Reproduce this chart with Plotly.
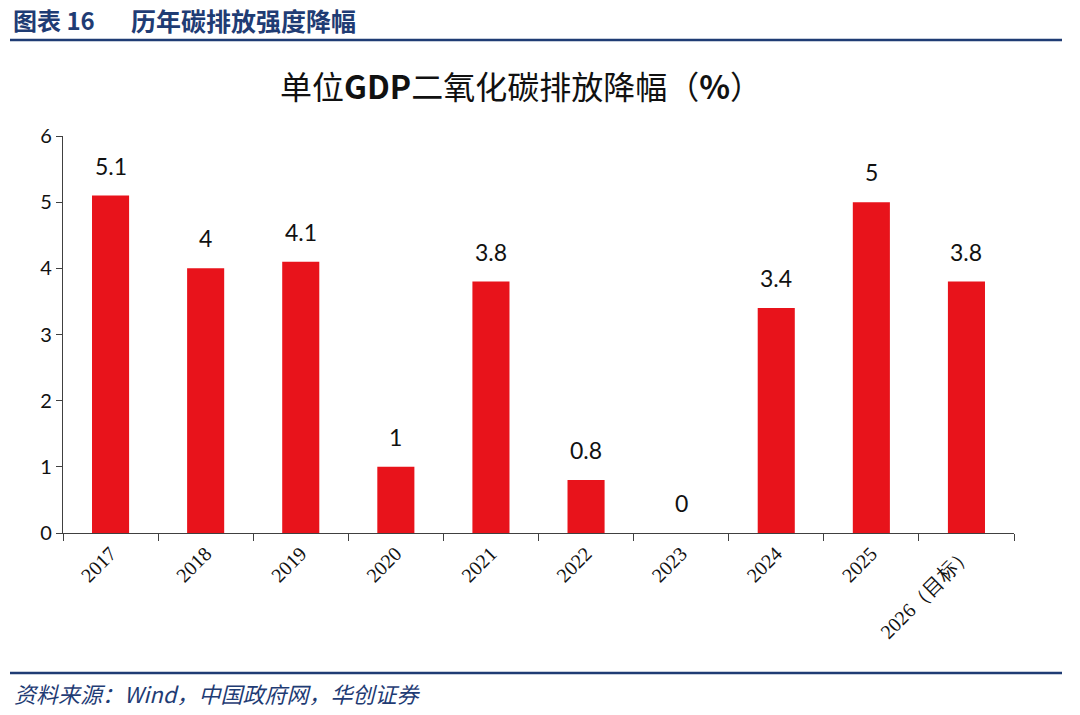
import plotly.graph_objects as go

categories = ["2017", "2018", "2019", "2020", "2021", "2022", "2023", "2024", "2025", "2026（目标）"]
values = [5.1, 4, 4.1, 1, 3.8, 0.8, 0, 3.4, 5, 3.8]
value_labels = ["5.1", "4", "4.1", "1", "3.8", "0.8", "0", "3.4", "5", "3.8"]
y_ticks = [0, 1, 2, 3, 4, 5, 6]

W, H = 1080, 715
L, R, T, B = 63, 1014, 136, 533  # plot area in px

def px_x(px):
    return (px - L) / (R - L)

def px_y(py):
    return (B - py) / (B - T)

fig = go.Figure()
fig.add_trace(go.Bar(
    x=categories, y=values,
    marker=dict(color="#E8131B", line=dict(width=0)),
    width=0.39,
    hoverinfo="x+y",
))

for i, (v, t) in enumerate(zip(values, value_labels)):
    fig.add_annotation(x=i, y=v, xref="x", yref="y", text=t, showarrow=False,
                       yanchor="bottom", yshift=14,
                       font=dict(family="Lato, Open Sans, sans-serif", size=23, color="#111111"))

# header / footer
blue = "#1F3C74"
fig.add_annotation(xref="paper", yref="paper", x=px_x(11), y=px_y(20), xanchor="left", yanchor="middle",
                   text="<b>图表 16</b>", showarrow=False,
                   font=dict(family="Noto Sans CJK SC", size=24, color=blue))
fig.add_annotation(xref="paper", yref="paper", x=px_x(129), y=px_y(20), xanchor="left", yanchor="middle",
                   text="<b>历年碳排放强度降幅</b>", showarrow=False,
                   font=dict(family="Noto Sans CJK SC", size=25, color=blue))
fig.add_shape(type="line", xref="paper", yref="paper", x0=px_x(10), x1=px_x(1062), y0=px_y(40), y1=px_y(40),
              line=dict(color=blue, width=2.5))
fig.add_shape(type="line", xref="paper", yref="paper", x0=px_x(10), x1=px_x(1062), y0=px_y(673), y1=px_y(673),
              line=dict(color=blue, width=2.5))
fig.add_annotation(xref="paper", yref="paper", x=px_x(12), y=px_y(693), xanchor="left", yanchor="middle",
                   text="<i>资料来源：Wind，中国政府网，华创证券</i>", showarrow=False,
                   font=dict(family="Noto Sans CJK SC", size=22, color=blue))
# chart title
fig.add_annotation(xref="paper", yref="paper", x=px_x(521), y=px_y(85), xanchor="center", yanchor="middle",
                   text="单位<b>GDP</b>二氧化碳排放降幅（<b>%</b>）", showarrow=False,
                   font=dict(family="Noto Sans CJK SC", size=32, color="#111111"))

fig.update_layout(
    width=W, height=H,
    margin=dict(l=L, r=W - R, t=T, b=H - B, pad=0),
    paper_bgcolor="white", plot_bgcolor="white",
    showlegend=False,
    xaxis=dict(
        type="category", tickangle=-45,
        tickson="boundaries", ticks="outside", ticklen=7, tickcolor="#404040",
        showline=True, linecolor="#404040", linewidth=1.2,
        showgrid=False,
        tickfont=dict(family="Liberation Serif, Times New Roman, serif", size=20, color="#111111"),
        range=[-0.5, len(categories) - 0.5],
    ),
    yaxis=dict(
        range=[0, 6], tickvals=y_ticks, ticks="outside", ticklen=6, tickcolor="#404040",
        showline=True, linecolor="#404040", linewidth=1.2,
        showgrid=False, zeroline=False,
        tickfont=dict(family="Lato, Open Sans, sans-serif", size=20, color="#111111"),
    ),
)

fig.write_html("out.html", config={"displayModeBar": False},
               post_script="document.body.style.margin='0';document.body.style.overflow='hidden';")
